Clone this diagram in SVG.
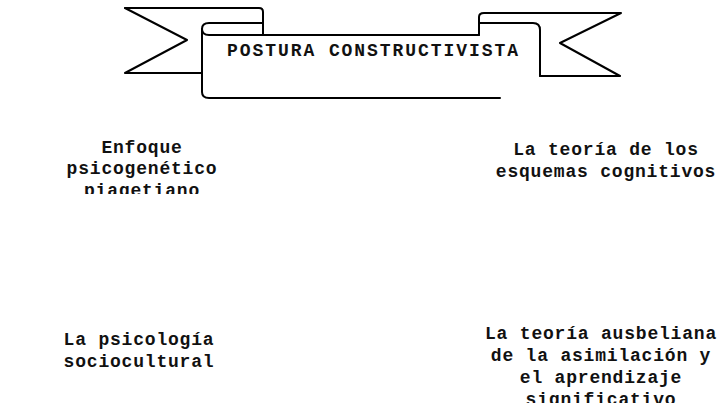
<svg xmlns="http://www.w3.org/2000/svg" width="724" height="408" viewBox="0 0 724 408">
<style>
.ln{fill:none;stroke:#000;stroke-width:2;stroke-linejoin:round;stroke-linecap:round}
.t{font-family:"Liberation Mono","Courier New",monospace;font-size:18px;fill:#111;text-anchor:middle;letter-spacing:0.8px;font-weight:bold}
.title{font-family:"Liberation Mono","Courier New",monospace;font-size:18px;fill:#111;font-weight:bold}
</style>
<defs>
<clipPath id="c1"><rect x="0" y="0" width="300" height="194"/></clipPath>
<clipPath id="c2"><rect x="420" y="300" width="304" height="103"/></clipPath>
</defs>
<rect width="724" height="408" fill="#fff"/>
<g id="banner">
<path class="ln" d="M125,8 H259 Q263,8 263,12 V35"/>
<path class="ln" d="M125,8 L187,40 L125,73 H202"/>
<path class="ln" d="M263,23 H209 Q202,23 202,29 Q202,35 209,35 H479"/>
<path class="ln" d="M202,29 V92 Q202,98 209,98 H500"/>
<path class="ln" d="M479,35 V17 Q479,13 484,13 H621 L560,43 L620,76 H540"/>
<path class="ln" d="M479,23 H533 Q540,23 540,30 V76"/>
<text class="title" x="227" y="56" textLength="291" lengthAdjust="spacing">POSTURA CONSTRUCTIVISTA</text>
</g>
<g id="node-piagetiano" clip-path="url(#c1)">
<text class="t" x="142" y="153">Enfoque</text>
<text class="t" x="142" y="174">psicogenético</text>
<text class="t" x="142" y="196">piagetiano</text>
</g>
<g id="node-esquemas">
<text class="t" x="606" y="155">La teoría de los</text>
<text class="t" x="606" y="177">esquemas cognitivos</text>
</g>
<g id="node-sociocultural">
<text class="t" x="139" y="345">La psicología</text>
<text class="t" x="139" y="367">sociocultural</text>
</g>
<g id="node-ausbeliana" clip-path="url(#c2)">
<text class="t" x="601" y="339">La teoría ausbeliana</text>
<text class="t" x="601" y="361">de la asimilación y</text>
<text class="t" x="601" y="383">el aprendizaje</text>
<text class="t" x="601" y="405">significativo</text>
</g>
<g id="connectors"/>
</svg>
